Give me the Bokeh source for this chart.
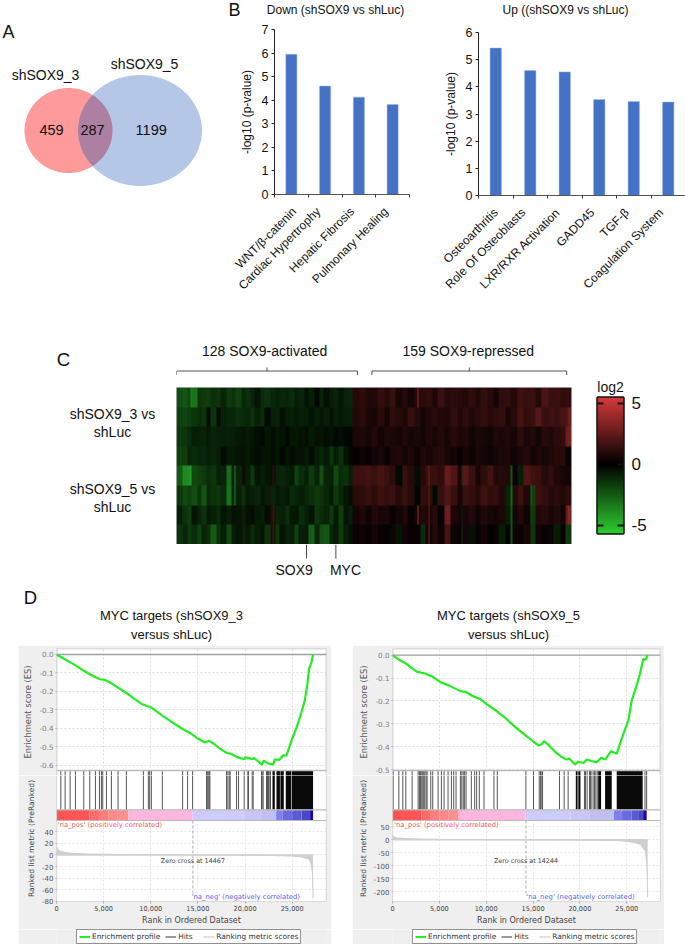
import numpy as np
from bokeh.core.properties import value
from bokeh.embed import file_html
from bokeh.layouts import column, row
from bokeh.models import (FixedTicker, Legend, LegendItem, LinearAxis,
                          LinearColorMapper, NumeralTickFormatter, Range1d, Spacer)
from bokeh.plotting import figure
from bokeh.resources import INLINE

ARIAL = "Liberation Sans"
DEJA = "DejaVu Sans"

# ---------- data ----------
venn_labels = ["shSOX9_3", "shSOX9_5"]
venn_counts = [459, 287, 1199]

down_terms = ["WNT/β-catenin", "Cardiac Hypertrophy", "Hepatic Fibrosis", "Pulmonary Healing"]
down_vals = [5.95, 4.6, 4.13, 3.82]
up_terms = ["Osteoarthritis", "Role Of Osteoblasts", "LXR/RXR Activation", "GADD45", "TGF-β", "Coagulation System"]
up_vals = [5.43, 4.6, 4.55, 3.53, 3.46, 3.44]

heat_1 = [-2.2,-2.4,-2,-3.2,-1.5,-1.6,-1.7,-1.3,-1.5,-1,-1.6,-1.4,-1.8,-1.1,-1.3,-1,-.6,-1.2,-1.4,-1.1,-.9,-1.1,-1,-1.2,-.8,-1,-.5,-.9,-.3,-1,-.5,-.8,-1,-.6,-1,-1.1,
          1,1.2,.8,.9,1.3,.9,1.4,.6,1,.5,1,1.1,1.2,.7,1.5,1,1.1,1,.9,1.2,.8,1.3,1,.5,1.2,1.3,.9,1.6,1.4,1.5,1,1.9,1.4,1.5,1.2,1.3]
heat_2 = [-1.8,-1.9,-1.7,-1.5,-1.2,-1.5,-.4,-1.4,-.3,-.9,-1.1,-1.1,-1.3,-1.2,-1.1,-1.4,-.9,-1.2,-.3,-.9,-1,-.5,-.8,-.9,-.7,-.9,-.8,-.6,-.8,-.6,-.9,-.5,-.8,-.7,-.8,-.9,
          .9,1.1,.7,.6,1.1,.5,1.2,1,.7,1.4,1,.5,.8,1.1,.9,.8,1.3,.8,1.2,.9,1.1,1.3,1,1.2,1.3,.6,1.1,1.8,1.3,1.5,2.2,1.4,1.6,1.5,1.8,2]
heat_3 = [-1.6,-1.5,-1.2,-.8,-.9,-1,-.7,-1,-.9,-.8,-.9,-.8,-.7,-.6,-.7,-.6,-.4,-.2,-.6,-.4,-.6,-.5,-.3,-.6,-.6,-.5,-.4,-.7,-.5,-.6,-.4,-.5,-.3,-.4,-.3,-.2,
          .7,.8,.6,.9,.5,.8,.7,.6,.9,.6,.7,.5,.8,.6,.9,.6,1,.7,.8,.5,.7,.6,.5,.8,.7,.9,.6,1.2,.7,.9,.5,1,.8,1.1,1.3,2.8]
heat_4 = [-1.8,-1.7,-1,-1.2,-1,-1.1,-.9,-1,-.8,-.4,-.7,-.7,-.6,-.5,-.7,-.5,-.4,-.5,-.6,-.4,-.6,-.3,-.6,-.4,-.5,-.5,-.7,-.4,-.8,-1.1,-.7,-1.4,-.8,-1.3,-.6,-.3,
          .3,.4,.3,.5,.6,.3,.7,.8,.5,.7,.4,.8,.6,.9,1,.6,.5,.3,.6,.4,.7,.5,.4,.6,.7,.8,.5,.7,.9,.5,.7,.6,.8,1,1.1,.2]
heat_5 = [-2.5,-3.8,-4,-2,-1.8,-1.6,-1.2,-1.5,-.9,-1,-3,-.9,-1,-.4,-.8,-1.6,-.6,-.8,-.6,-.5,-1,-1.1,-.9,-.7,-1.8,-1.2,-.8,-1.6,-1,-2.2,-1,-.9,-2,-1.2,-1.4,-.9,
          1.5,1.6,1.7,1.5,1.8,1.4,1.2,-.3,1.4,1,-.4,1,1.5,1.4,1.2,2.6,2,.7,2.2,1.5,.6,1.2,1.7,.9,1,.9,.3,-.8,2,1.6,1.5,1,1.3,.9,.6,.5]
heat_6 = [-1.6,-2,-1.8,-2.2,-1.5,-2.4,-1.2,-1.4,-1.6,-1.2,-3.2,-1.1,-.9,-1.3,-.7,-.8,-1,-.6,-.8,-1,-.6,-.9,-.7,-1.2,-1,-.8,-1.1,-1.3,-1.6,-1.4,-1.1,-.7,-1.6,-1.1,-.6,-.4,
          1.1,1.2,1.4,1.1,1.6,1.3,1.5,1,1.4,1.1,-.2,1.3,1.2,-.3,1.4,2,1.4,.6,1.5,1.3,1,1.6,1.2,1.3,.9,-1,1,1.5,.8,-1.8,1.5,1.3,1,1.1,.9,1.2]
heat_7 = [-.9,-1.4,-1.7,-.6,-1,-1.4,-.7,-.9,-1.2,-.6,-.8,-.5,-.6,-.9,-.5,-.4,-.7,-.8,-.4,-.6,-1,-.9,-1.3,-.7,-.6,-1.2,-.9,-.5,-1.5,-1.2,-1,-1.6,-.7,-1.7,-.6,-.9,
          .5,.8,.4,.9,.6,.7,.3,.5,.8,.3,.5,.9,.7,1.1,.3,2.8,.7,.5,.6,.9,.4,.8,.6,.5,.7,-.8,.5,.9,.4,-1.6,.8,1,.6,.9,.5,2.4]
heat_8 = [-1.4,-1.1,-1.6,-1.2,-1.8,-1,-1.3,-2.5,-1.4,-.8,-2.1,-.9,-.6,-1,-.7,-1.2,-.8,-.6,-1.4,-.7,-1.5,-.6,-1,-.9,-1.8,-.8,-.7,-2.6,-1,-2.2,-2.4,-1,-.7,-1.6,-.8,-.5,
          .3,.4,.2,.5,.3,.1,.4,-.6,.5,.3,.2,-1.2,.5,1,.4,1.8,.4,.2,.6,-.5,.3,.5,.1,.3,-.8,.2,.4,.2,.6,-1.5,.5,.3,.4,-.8,.2,-1.6]
heat_rows = [heat_1, heat_2, heat_3, heat_4, heat_5, heat_6, heat_7, heat_8]
# narrow bright stripes: row, gene column, log2 value
heat_stripes = [(0,10,-3.6),(4,10,-4.5),(5,42,-3.6),(4,42,-3.8),(6,47,1),(4,47,1),(7,47,.9),(5,68,1.2),(6,68,1.2),
                (7,68,1.1),(6,70,1.6),(7,70,1.6),(4,70,1.2),(0,175,4),(6,175,4.2),(4,183,3),(5,183,2.6),(6,183,2.6),(7,183,3),
                (4,243,-2.4),(5,243,-2.8),(6,243,-2.4),(7,243,-2.4),(5,257,-2.8),(6,257,-2.2),(4,207,-1.4),(6,207,-1),(7,207,-1.2),
                (1,285,3),(2,285,3.2),(6,285,3.6),(2,284,2.8),(6,284,3.4)]
n_activated, n_repressed = 128, 159
marker_genes = ["SOX9", "MYC"]
marker_cols = [94.5, 115.8]

es_rank_1 = [0,741,1800,2859,3918,4624,5154,5683,6565,7448,8330,9036,10095,11154,12213,13272,14155,15037,15743,16167,16626,17332,18038,18568,19097,19909,20015,20439,20721,20933,21392,21780,21992,22451,22980,23157,23616,24039,24392,24922,25451,25981,26334,26616,26793,27040,27216]
es_val_1 = [0,-.022,-.052,-.087,-.118,-.134,-.138,-.152,-.181,-.21,-.243,-.268,-.289,-.329,-.365,-.401,-.425,-.457,-.477,-.467,-.481,-.51,-.533,-.539,-.555,-.568,-.557,-.562,-.566,-.561,-.579,-.597,-.575,-.59,-.597,-.568,-.571,-.546,-.548,-.466,-.398,-.313,-.25,-.159,-.078,-.042,0]
es_rank_2 = [0,675,1385,2095,2627,3515,4225,5112,6000,7242,7846,8485,9372,10082,11147,12035,13100,14165,15052,15585,15940,16153,16650,17360,18070,18602,18851,19490,19775,20378,20733,21265,21798,22260,22686,23325,23928,24390,25171,25526,26058,26413,26768,27017,27229]
es_val_2 = [0,-.02,-.035,-.058,-.073,-.08,-.093,-.118,-.132,-.157,-.161,-.177,-.192,-.215,-.245,-.274,-.314,-.349,-.378,-.394,-.388,-.375,-.392,-.422,-.445,-.456,-.451,-.477,-.465,-.471,-.456,-.462,-.468,-.448,-.456,-.419,-.43,-.372,-.285,-.198,-.132,-.081,-.016,-.02,0]

hits_1 = [459,918,1447,2012,2895,3530,4130,4554,4766,4907,5295,5825,6530,7413,9213,9743,9884,10061,11225,13379,13908,14438,15920,15991,16097,16203,16273,18038,18180,18321,18427,19097,19309,19909,20298,20368,20757,20862,21745,21815,21921,22274,22380,22486,22627,22698]
hit_bands_1 = [(22910,23157),(23333,23700),(23750,24110),(24320,24900),(24960,27216)]
hits_2 = [71,675,1100,1420,2095,2734,2876,2982,3124,3231,3337,3444,3586,3692,4083,4295,4864,5219,5503,5929,6284,6532,6781,7250,7400,7550,7700,7850,8414,8769,8982,9266,9763,10828,11183,14236,15052,15656,15798,15940,16011,17821,18318,18744,20485,20600,20769,21017,21120,21194,21407,21550,21700,21850,26946,27124]
hit_bands_2 = [(19561,19750),(19830,20059),(21950,22260),(22686,23396),(23928,26697)]

strip_edges_1 = [0,3500,4500,5500,6500,7620,14440,20000,21800,23300,24000,25000,26000,26900,27216]
strip_edges_2 = [0,3100,4000,5000,6000,7065,14200,19000,21000,23640,24500,25500,26300,26750,27120]
strip_colors = ["#ff5555","#ff6a6a","#ff7c7c","#ff8888","#ff9090","#ffb6de","#ccccff","#c6c6f8","#bfbff0",
                "#7f7fee","#6a6ae0","#5a5ad0","#4848c8","#2000a8"]

metric_rank_1 = [0,150,500,1000,2000,3500,7000,14467,20000,23000,25000,26000,26800,27000,27150,27216]
metric_val_1 = [14,9,6,4,2.5,1.5,.8,0,-.5,-1,-2,-3.5,-7,-15,-30,-75]
metric_rank_2 = [0,100,500,1500,3000,7000,14244,22000,24000,25000,26000,26500,27000,27150,27230]
metric_val_2 = [18,12,7,5,3,1.2,0,-1.5,-3,-5,-12,-18,-45,-100,-220]

es_ticks_1 = [0,-.1,-.2,-.3,-.4,-.5,-.6]
es_ticks_2 = [0,-.1,-.2,-.3,-.4,-.5]
metric_ticks_1 = [40,20,0,-20,-40,-60,-80]
metric_ticks_2 = [50,0,-50,-100,-150,-200]
rank_ticks = [0,5000,10000,15000,20000,25000]
zero_cross = [14467, 14244]


def txt(p, x, y, s, size, color="#111111", align="center", font=ARIAL, baseline="middle", angle=0.0):
    p.text([x], [y], text=[s], text_font=value(font), text_font_size=f"{size}px", text_color=color,
           text_align=align, text_baseline=baseline, angle=angle)


def canvas(x0, x1, y0, y1):
    """Blank area in page pixels, used for free-standing labels."""
    p = figure(width=x1 - x0, height=y1 - y0, x_range=Range1d(x0, x1), y_range=Range1d(y1, y0), toolbar_location=None,
               output_backend="svg", min_border=0, x_axis_location=None, y_axis_location=None)
    p.grid.visible = False
    p.outline_line_color = None
    return p


# ---------- header of A/B ----------
head = canvas(0, 685, 0, 20)
txt(head, 234, 9, "B", 18)
txt(head, 335, 9, "Down (shSOX9 vs shLuc)", 12)
txt(head, 565, 9, "Up ((shSOX9 vs shLuc)", 12)

# ---------- A: Venn ----------
pv = canvas(0, 232, 20, 300)
t = np.linspace(0, 2*np.pi, 361)
cx1, cy1, rx1, ry1 = 68, 130, 44, 42.5
cx2, cy2, rx2, ry2 = 139.5, 130, 62, 55.5
ex1, ey1 = cx1 + rx1*np.cos(t), cy1 + ry1*np.sin(t)
ex2, ey2 = cx2 + rx2*np.cos(t), cy2 + ry2*np.sin(t)
pv.patch(ex1, ey1, fill_color="#ff9a9a", line_color=None)
pv.patch(ex2, ey2, fill_color="#b4c7e7", line_color=None)
in1 = ((ex2-cx1)/rx1)**2 + ((ey2-cy1)/ry1)**2 <= 1
in2 = ((ex1-cx2)/rx2)**2 + ((ey1-cy2)/ry2)**2 <= 1
a2 = np.arctan2(ey2[in1]-cy2, ex2[in1]-cx2)
a1 = np.arctan2(ey1[in2]-cy1, ex1[in2]-cx1)
o2 = np.argsort(a2 % (2*np.pi))
o1 = np.argsort(a1)
lx = np.r_[ex1[in2][o1], ex2[in1][o2]]
ly = np.r_[ey1[in2][o1], ey2[in1][o2]]
pv.patch(lx, ly, fill_color="#ad7fa1", line_color=None)
txt(pv, 8, 31, "A", 18)
txt(pv, 45, 74, venn_labels[0], 14)
txt(pv, 144, 63, venn_labels[1], 14)
for x, c in zip([51, 92, 150.7], venn_counts):
    txt(pv, x, 129, str(c), 14.5)


# ---------- B: bars ----------
def bars(terms, vals, ymax, width, left, right, top, bottom):
    n = len(terms)
    p = figure(width=width, height=280, x_range=Range1d(0, n), y_range=Range1d(0, ymax),
               toolbar_location=None, output_backend="svg", x_axis_location="below", y_axis_location="left",
               min_border_left=left, min_border_right=right, min_border_top=top, min_border_bottom=bottom)
    p.grid.visible = False
    p.outline_line_color = None
    p.vbar(x=[i + 0.5 for i in range(n)], top=vals, width=0.33, fill_color="#4472c4", line_color="#9db6e3", line_width=0.5)
    edge = p.xaxis[0]
    edge.ticker = FixedTicker(ticks=list(range(n+1)), minor_ticks=[])
    edge.major_label_overrides = {i: "" for i in range(n+1)}
    edge.major_tick_out = 3
    edge.major_tick_in = 0
    edge.axis_line_color = "#555555"
    edge.major_tick_line_color = "#333333"
    edge.axis_line_width = 1.2
    edge.major_label_standoff = 0
    p.extra_x_ranges["terms"] = Range1d(-0.3, n - 0.3)
    cat = LinearAxis(x_range_name="terms", ticker=FixedTicker(ticks=list(range(n)), minor_ticks=[]),
                     major_label_overrides={i: s for i, s in enumerate(terms)},
                     axis_line_color=None, major_tick_line_color=None, minor_tick_line_color=None,
                     major_label_orientation=np.radians(45), major_label_standoff=6,
                     major_label_text_font=ARIAL, major_label_text_font_size="12px",
                     major_label_text_color="#111111")
    p.add_layout(cat, "below")
    y = p.yaxis[0]
    y.ticker = FixedTicker(ticks=list(range(ymax+1)), minor_ticks=[])
    y.major_tick_out = 3
    y.major_tick_in = 0
    y.axis_line_color = "#222222"
    y.major_tick_line_color = "#222222"
    y.major_label_text_font = ARIAL
    y.major_label_text_font_size = "12.5px"
    y.major_label_text_color = "#111111"
    y.major_label_standoff = 3
    y.axis_label = "-log10 (p-value)"
    y.axis_label_text_font = ARIAL
    y.axis_label_text_font_style = "normal"
    y.axis_label_text_font_size = "12px"
    y.axis_label_text_color = "#111111"
    y.axis_label_standoff = 5
    return p


pb1 = bars(down_terms, down_vals, 7, 208, 42, 31, 9, 105)
pb2 = bars(up_terms, up_vals, 6, 245, 37, 0, 12, 105)
top1 = row(column(pv, spacing=0), column(pb1, spacing=0), column(pb2, spacing=0), spacing=0)


# ---------- C: heatmap ----------
left_c = canvas(0, 176, 300, 580)
txt(left_c, 63, 359, "C", 18.5)
txt(left_c, 112, 413, "shSOX9_3 vs", 14)
txt(left_c, 112, 431, "shLuc", 14)
txt(left_c, 112, 488, "shSOX9_5 vs", 14)
txt(left_c, 112, 506, "shLuc", 14)

n_genes = n_activated + n_repressed
heat = np.zeros((8, n_genes))
blk = np.r_[(np.arange(n_activated)*36/n_activated).astype(int),
            36 + (np.arange(n_repressed)*36/n_repressed).astype(int)]
for i, r in enumerate(heat_rows):
    heat[i] = np.array(r)[blk]
for r, c, v in heat_stripes:
    heat[r, c] = v
palette = []
for f in np.linspace(-1, 1, 201):
    if f < 0:
        palette.append("#%02x%02x%02x" % (int(45*-f), int(197*-f), int(45*-f)))
    else:
        palette.append("#%02x%02x%02x" % (int(214*f), int(58*f), int(58*f)))
mapper = LinearColorMapper(palette=palette, low=-5.5, high=5.5)

ph = figure(width=406, height=157, x_range=Range1d(0, n_genes), y_range=Range1d(0, 8), toolbar_location=None,
            output_backend="svg", min_border=0, min_border_right=11, x_axis_location=None, y_axis_location=None)
ph.grid.visible = False
ph.outline_line_color = "#bbbbbb"
ph.image(image=[heat[::-1]], x=0, y=0, dw=n_genes, dh=8, color_mapper=mapper)

pt = figure(width=406, height=87, x_range=ph.x_range, y_range=Range1d(87, 0), toolbar_location=None,
            output_backend="svg", min_border=0, min_border_right=11, x_axis_location=None, y_axis_location=None)
pt.grid.visible = False
pt.outline_line_color = None
txt(pt, 64, 50, f"{n_activated} SOX9-activated", 14)
txt(pt, 212, 50, f"{n_repressed} SOX9-repressed", 14)
for a, b in [(0, 131.5), (142, 283.5)]:
    m = (a+b)/2
    pt.segment([a, b, a, m], [70.5, 70.5, 70.5, 70.5], [a, b, b, m], [74.5, 74.5, 70.5, 67], line_color="#555555", line_width=1)

pm = figure(width=406, height=36, x_range=ph.x_range, y_range=Range1d(36, 0), toolbar_location=None,
            output_backend="svg", min_border=0, min_border_right=11, x_axis_location=None, y_axis_location=None)
pm.grid.visible = False
pm.outline_line_color = None
pm.segment(marker_cols, [0, 0], marker_cols, [14, 14], line_color="#444444", line_width=1)
txt(pm, 85.5, 25, marker_genes[0], 14)
txt(pm, 122.8, 25, marker_genes[1], 14)

pc = figure(width=103, height=280, x_range=Range1d(0, 1), y_range=Range1d(-5.66, 5.45), toolbar_location=None,
            output_backend="svg", min_border_left=15, min_border_right=62, min_border_top=97, min_border_bottom=47,
            x_axis_location=None, y_axis_location="right", title="log2")
pc.title.align = "center"
pc.title.text_font = ARIAL
pc.title.text_font_size = "14px"
pc.title.text_font_style = "normal"
pc.title.text_color = "#111111"
pc.title.standoff = 5
pc.grid.visible = False
pc.outline_line_color = "#111111"
pc.outline_line_width = 2.5
pc.image(image=[np.linspace(-5.66, 5.45, 200).reshape(-1, 1)], x=0, y=-5.66, dw=1, dh=11.11, color_mapper=mapper)
ya = pc.yaxis[0]
ya.ticker = FixedTicker(ticks=[-5, 0, 5], minor_ticks=[])
ya.major_label_overrides = {-5: "-5", 0: "0", 5: "5"}
ya.axis_line_color = None
ya.major_tick_in = 6
ya.major_tick_out = 0
ya.major_tick_line_color = "#111111"
ya.major_tick_line_width = 2
ya.major_label_text_font = ARIAL
ya.major_label_text_font_size = "17px"
ya.major_label_text_color = "#111111"
ya.major_label_standoff = 8
yl = LinearAxis(ticker=FixedTicker(ticks=[-5, 5], minor_ticks=[]), axis_line_color=None, major_tick_in=6, major_tick_out=0,
                major_tick_line_color="#111111", major_tick_line_width=2, major_label_overrides={-5: "", 5: ""},
                major_label_standoff=0)
pc.add_layout(yl, "left")

mid = row(column(left_c, spacing=0), column(pt, ph, pm, spacing=0), column(pc, spacing=0), spacing=0)

# ---------- D ----------
pd_t = canvas(0, 685, 580, 645)
txt(pd_t, 30, 597, "D", 18.5)
txt(pd_t, 171, 615, "MYC targets (shSOX9_3", 13)
txt(pd_t, 171, 634, "versus shLuc)", 13)
txt(pd_t, 508, 615, "MYC targets (shSOX9_5", 13)
txt(pd_t, 508, 634, "versus shLuc)", 13)

PANEL = "#efefef"
EXT = 5      # the upper frame reaches this many px into the hits track, so its last tick label has room
EDGE = "#bbbbbb"


def draw_hits(p, hits, bands, xmax):
    p.quad(left=[0], right=[xmax], top=[0], bottom=[39.3], y_range_name="track", fill_color="white", line_color=None)
    p.segment(hits, [0]*len(hits), hits, [39.3]*len(hits), y_range_name="track", line_color="#555555", line_width=1)
    p.quad(left=[q[0] for q in bands], right=[q[1] for q in bands], top=[0]*len(bands), bottom=[39.3]*len(bands),
           y_range_name="track", fill_color="#0a0a0a", line_color=None)


def gsea(fw, left, right, xmax, es_r, es_v, es_y, es_t, hits, bands, edges, m_r, m_v, m_y, m_bounds, m_t, zc, xs):
    w = left + fw + right
    xr = Range1d(0, xmax)
    es_lo = es_y[0] - EXT*(es_y[1]-es_y[0])/122
    a = figure(width=w, height=125 + EXT, x_range=xr, y_range=Range1d(es_lo, es_y[1]), toolbar_location=None, output_backend="svg",
               min_border_left=left, min_border_right=right, min_border_top=3, min_border_bottom=0,
               x_axis_location=None, y_axis_location="left", border_fill_color=PANEL)
    a.outline_line_color = None
    a.xgrid.ticker = FixedTicker(ticks=rank_ticks, minor_ticks=[])
    a.ygrid.ticker = FixedTicker(ticks=es_t, minor_ticks=[])
    for g in (a.xgrid[0], a.ygrid[0]):
        g.grid_line_color = "#e0e0e0"
        g.grid_line_dash = "2 2"
    a.extra_y_ranges["track"] = Range1d(EXT, -122)
    draw_hits(a, hits, bands, xmax)
    a.segment([0, xmax, 0, 0], [-122, -122, -122, 0], [0, xmax, xmax, xmax], [EXT, EXT, -122, 0], y_range_name="track",
              line_color=EDGE, line_width=1.6)
    a.line([0, xmax], [0, 0], line_color="#a0a0a0", line_width=1.3)
    a.line(es_r, es_v, line_color="#22ee22", line_width=2.2)
    y = a.yaxis[0]
    y.bounds = es_y
    y.ticker = FixedTicker(ticks=es_t, minor_ticks=[])
    y.major_label_overrides = {v: f"{v:.1f}" for v in es_t}
    y.major_label_text_font = DEJA
    y.major_label_text_font_size = "7.2px"
    y.major_label_text_color = "#808080"
    y.major_tick_out = 1
    y.major_tick_in = 0
    y.major_tick_line_color = "#aaaaaa"
    y.axis_line_color = None
    y.major_label_standoff = 2
    y.axis_label = "Enrichment score (ES)"
    y.axis_label_text_font = DEJA
    y.axis_label_text_font_style = "normal"
    y.axis_label_text_font_size = "8.4px"
    y.axis_label_text_color = "#555555"
    y.axis_label_standoff = 3

    m_hi = m_y[1] - EXT*(m_y[1]-m_y[0])/131
    b = figure(width=w, height=159 - EXT, x_range=xr, y_range=Range1d(m_y[0], m_hi), toolbar_location=None, output_backend="svg",
               min_border_left=left, min_border_right=right, min_border_top=0, min_border_bottom=28,
               x_axis_location="below", y_axis_location="left", border_fill_color=PANEL)
    b.outline_line_color = None
    b.xgrid.ticker = FixedTicker(ticks=rank_ticks, minor_ticks=[])
    b.ygrid.ticker = FixedTicker(ticks=m_t, minor_ticks=[])
    for g in (b.xgrid[0], b.ygrid[0]):
        g.grid_line_color = "#e6e6e6"
        g.grid_line_dash = "2 2"
    b.ygrid[0].bounds = m_bounds
    b.extra_y_ranges["track"] = Range1d(131, EXT)
    b.quad(left=[0], right=[xmax], top=[39.3], bottom=[50], y_range_name="track", fill_color="white", line_color=None)
    draw_hits(b, hits, bands, xmax)
    b.quad(left=edges[:-1], right=edges[1:], top=[39.3]*len(strip_colors), bottom=[50]*len(strip_colors),
           y_range_name="track", fill_color=strip_colors, line_color=None)
    b.segment([0, 0, 0, xmax, 0], [39.3, 50, EXT, EXT, 131], [xmax, xmax, 0, xmax, xmax], [39.3, 50, 131, 131, 131],
              y_range_name="track", line_color=EDGE, line_width=1.2)
    b.segment([zc], [50], [zc], [125], y_range_name="track", line_color="#aaaaaa", line_width=1, line_dash="3 2")
    b.varea(m_r, [0]*len(m_r), m_v, fill_color="#cfcfcf")
    b.line(m_r, m_v, line_color="#cccccc", line_width=1)
    b.line([0, m_r[-1]], [0, 0], line_color="#d0d0d0", line_width=1.5)
    b.text([xs[0]], [54.7], text=["'na_pos' (positively correlated)"], y_range_name="track", text_font=value(DEJA),
           text_font_size="6.8px", text_color="#ff5555", text_align="left", text_baseline="middle")
    b.text([zc], [90.7], text=[f"Zero cross at {zc}"], y_range_name="track", text_font=value(DEJA),
           text_font_size="6.4px", text_color="#444444", text_align="center", text_baseline="middle")
    b.text([xs[1]], [126], text=["'na_neg' (negatively correlated)"], y_range_name="track", text_font=value(DEJA),
           text_font_size="6.8px", text_color="#5a5aee", text_align="left", text_baseline="middle")
    y = b.yaxis[0]
    y.bounds = m_bounds
    y.ticker = FixedTicker(ticks=m_t, minor_ticks=[])
    y.major_label_overrides = {v: str(v) for v in m_t}
    y.major_label_text_font = DEJA
    y.major_label_text_font_size = "7px"
    y.major_label_text_color = "#555555"
    y.major_tick_out = 1
    y.major_tick_in = 0
    y.major_tick_line_color = "#aaaaaa"
    y.axis_line_color = None
    y.major_label_standoff = 2
    y.axis_label = "Ranked list metric (PreRanked)"
    y.axis_label_text_font = DEJA
    y.axis_label_text_font_style = "normal"
    y.axis_label_text_font_size = "7.6px"
    y.axis_label_text_color = "#444444"
    y.axis_label_standoff = 3
    x = b.xaxis[0]
    x.ticker = FixedTicker(ticks=rank_ticks, minor_ticks=[])
    x.formatter = NumeralTickFormatter(format="0,0")
    x.major_label_text_font = DEJA
    x.major_label_text_font_size = "6.6px"
    x.major_label_text_color = "#444444"
    x.major_tick_out = 2
    x.major_tick_in = 0
    x.axis_line_color = None
    x.major_tick_line_color = "#aaaaaa"
    x.major_label_standoff = 2
    x.axis_label = "Rank in Ordered Dataset"
    x.axis_label_text_font = DEJA
    x.axis_label_text_font_style = "normal"
    x.axis_label_text_font_size = "8px"
    x.axis_label_text_color = "#444444"
    x.axis_label_standoff = 2

    c = figure(width=w, height=15, x_range=Range1d(0, 1), y_range=Range1d(0, 1), toolbar_location=None,
               output_backend="svg", min_border=0, x_axis_location=None, y_axis_location=None,
               background_fill_color=PANEL, border_fill_color=PANEL)
    c.grid.visible = False
    c.outline_line_color = None
    prof_r = c.line([2, 3], [2, 3], line_color="#22ee22", line_width=2)
    hit_r = c.line([2, 3], [2, 3], line_color="#555555", line_width=1.2)
    met_r = c.line([2, 3], [2, 3], line_color="#cccccc", line_width=1.2)
    leg = Legend(items=[LegendItem(label="Enrichment profile", renderers=[prof_r]),
                        LegendItem(label="Hits", renderers=[hit_r]),
                        LegendItem(label="Ranking metric scores", renderers=[met_r])],
                 orientation="horizontal", location=(20, 0), label_text_font=DEJA, label_text_font_size="7.4px",
                 label_text_color="#333333", border_line_color="#222222", border_line_width=1.2,
                 background_fill_color="white", background_fill_alpha=1, padding=2, margin=0, spacing=5,
                 glyph_width=11, glyph_height=9, label_standoff=2, label_height=9)
    c.add_layout(leg, "center")
    return column(a, b, c, spacing=0)


g1 = gsea(270, 38, 5, 28640, es_rank_1, es_val_1, (-.6287, .0325), es_ticks_1, hits_1, hit_bands_1, strip_edges_1,
          metric_rank_1, metric_val_1, (-80.5, 146), (-80, 59), metric_ticks_1, zero_cross[0], (140, 14340))
g2 = gsea(268, 40, 4, 28600, es_rank_2, es_val_2, (-.5035, .029), es_ticks_2, hits_2, hit_bands_2, strip_edges_2,
          metric_rank_2, metric_val_2, (-237, 266.5), (-237, 71), metric_ticks_2, zero_cross[1], (180, 14285))
bottom = row(Spacer(width=18, height=299), g1, Spacer(width=21, height=299), g2, Spacer(width=21, height=299), spacing=0)

root = column(head, top1, mid, pd_t, bottom, spacing=0)
open("out.html", "w").write(file_html(root, INLINE))
